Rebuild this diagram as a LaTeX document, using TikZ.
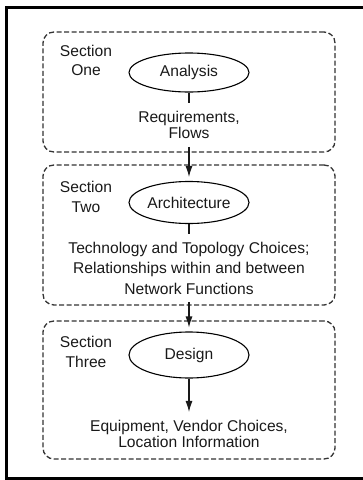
\documentclass[tikz,border=0pt]{standalone}
\usepackage{fontspec}
\setmainfont{Liberation Sans}
\usetikzlibrary{arrows.meta,shapes.geometric}

\begin{document}
\begin{tikzpicture}[
  x=1pt, y=1pt,
  every node/.style={align=center, font=\fontsize{15.6}{16.3}\selectfont, text=black!90, inner sep=0pt},
  secbox/.style={draw=black!80, dash pattern=on 5pt off 2.5pt, line width=1.3pt, rounded corners=11pt, minimum width=292pt},
  phase/.style={draw, ellipse, line width=1.1pt, minimum width=120pt, minimum height=41pt},
  seclabel/.style={font=\fontsize{15.6}{19.5}\selectfont},
  outbox/.style={inner sep=8pt},
  link/.style={line width=1.1pt, draw=black!90},
  >={Latex[length=11pt,width=7pt]}
]

\useasboundingbox (0,0) rectangle (363,-480);
\draw[line width=3pt] (363,-7) -| (6.5,-478) -- (363,-478);

% dashed section frames
\node[secbox, minimum height=120pt] (sec1) at (189,-92)  {};
\node[secbox, minimum height=140pt] (sec2) at (189,-235) {};
\node[secbox, minimum height=138pt] (sec3) at (189,-390) {};

\node[seclabel] (sec1-l) at (86,-60.5) {Section\\One};
\node[seclabel] (sec2-l) at (86,-197)  {Section\\Two};
\node[seclabel] (sec3-l) at (86,-352)  {Section\\Three};

\node[phase, minimum height=39pt] (analysis) at (189,-72.5)  {Analysis};
\node[phase, minimum height=42pt] (arch)     at (189,-202.5) {Architecture};
\node[phase, minimum height=46pt] (design)   at (189,-355)   {Design};

\node[outbox] (flows) at (189,-124.7) {Requirements,\\Flows};
\node[outbox, font=\fontsize{15.6}{20.5}\selectfont] (choices) at (189,-268)
  {Technology and Topology Choices;\\Relationships within and between\\Network Functions};
\node[outbox] (equip) at (189,-434) {Equipment, Vendor Choices,\\Location Information};

\draw[link] (analysis) -- (flows);
\draw[link, ->, shorten >=4pt] (flows) -- (arch);
\draw[link] (arch) -- (choices);
\draw[link, ->, shorten >=4pt] (choices) -- (design);
\draw[link, ->] (design) -- (equip);

\end{tikzpicture}
\end{document}
